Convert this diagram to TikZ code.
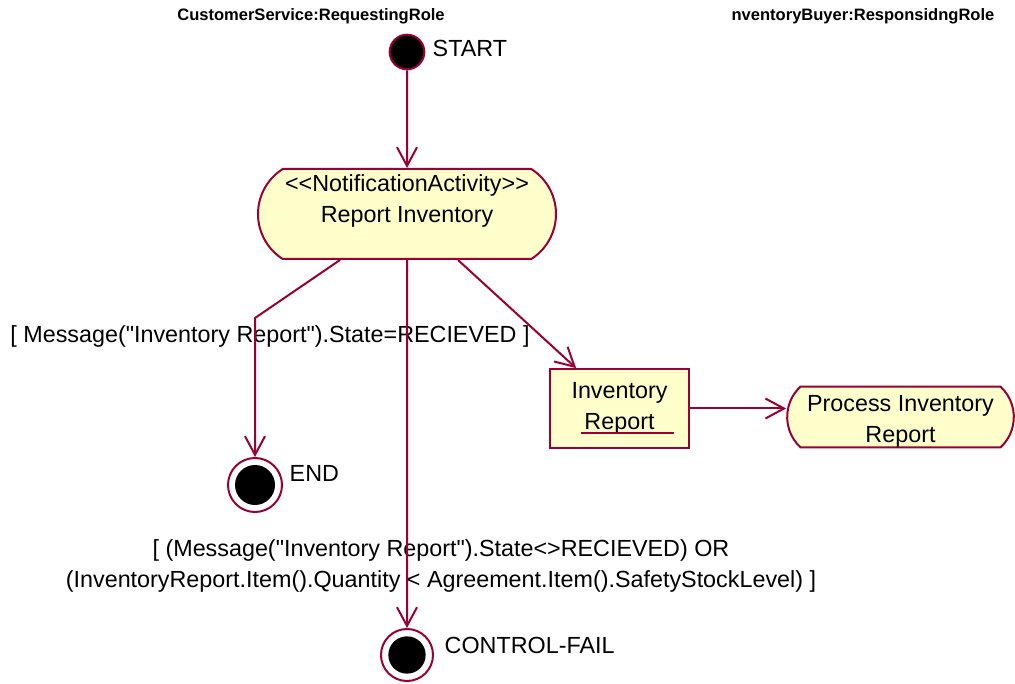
\documentclass[tikz,border=0pt]{standalone}
\usepackage{fontspec}
\setmainfont{Liberation Sans}[Ligatures=TeXOff]
\usetikzlibrary{arrows.meta,shapes.misc,calc}
\definecolor{rosered}{RGB}{153,0,51}
\definecolor{notepale}{RGB}{255,255,204}
\begin{document}
\begin{tikzpicture}[x=.75pt,y=-.75pt,
	every node/.style={font=\fontsize{17.5}{23}\selectfont},
	role/.style={font=\fontsize{12.4}{14}\selectfont\bfseries},
	flow/.style={draw=rosered,line width=1.5pt,-{Straight Barb[length=14pt,width=15pt]}},
	activity/.style={rounded rectangle,draw=rosered,line width=1.5pt,fill=notepale,align=center,inner sep=0pt},
	objbox/.style={rectangle,draw=rosered,line width=1.5pt,fill=notepale,align=center,inner sep=0pt},
	startstate/.style={circle,draw=rosered,line width=1.5pt,fill=black,minimum size=26pt,inner sep=0pt},
	finalstate/.style={circle,draw=rosered,line width=1.5pt,fill=white,inner sep=0pt,
		path picture={\fill[black] (path picture bounding box.center) circle (#1);}}
]
\useasboundingbox (0,0) rectangle (1015,684);
% swimlane headers
\node[role] (reqrole) at (311,16) {CustomerService:RequestingRole};
\node[role] (resprole) at (863,16) {nventoryBuyer:ResponsidngRole};
% states
\node[startstate] (start) at (407,52) {};
\node[anchor=west] (startlbl) at (428,48) {START};
\node[activity,minimum width=223.5pt,minimum height=67.5pt,rounded rectangle arc length=115,text depth=23pt] (notify) at (407,214) {<{}<NotificationActivity>{}>\\Report Inventory};
\node[objbox,minimum width=104pt,minimum height=59pt] (invrep) at (619.5,408.5) {Inventory\\Report};
\draw[rosered,line width=1.2pt] (581,433) -- (674,433);
\node[activity,minimum width=170pt,minimum height=45pt,rounded rectangle arc length=95,text height=42pt] (process) at (900.5,417) {Process Inventory\\Report};
\node[finalstate=15pt,minimum size=40.5pt] (endst) at (255,485) {};
\node[anchor=west] (endlbl) at (285,473) {END};
\node[finalstate=14pt,minimum size=39pt] (failst) at (407,655) {};
\node[anchor=west] (faillbl) at (440,645) {CONTROL-FAIL};
% guards
\node (guardok) at (270,336) {[ Message("Inventory Report").State=RECIEVED ]};
\node[align=center] (guardfail) at (441,566) {[ (Message("Inventory Report").State<>RECIEVED) OR\\(InventoryReport.Item().Quantity < Agreement.Item().SafetyStockLevel) ]};
% transitions
\coordinate (bend) at (255,318);
\draw[flow] (start) -- (notify);
\draw[flow] ($(notify.south)+(-67,0)$) -- (bend) -- (endst);
\draw[flow] (notify) -- (failst);
\draw[flow] ($(notify.south)+(51,0)$) -- ($(invrep.north west)+(27,0)$);
\draw[flow] (invrep.east) -- (invrep.east -| process.west);
\end{tikzpicture}
\end{document}
